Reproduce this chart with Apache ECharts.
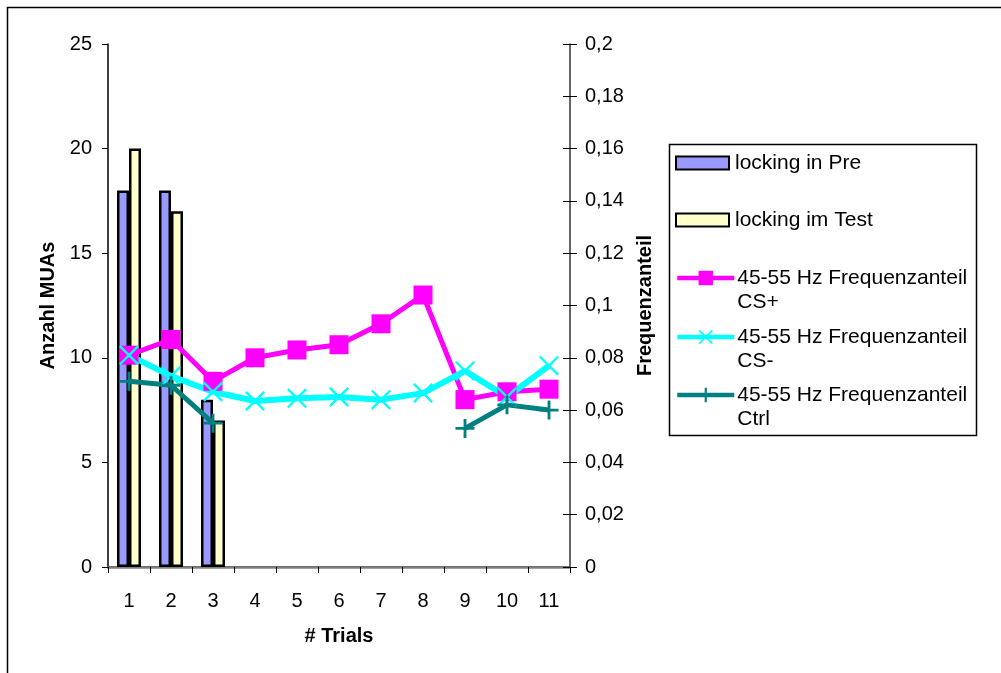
<!DOCTYPE html>
<html>
<head>
<meta charset="utf-8">
<script src="https://cdn.jsdelivr.net/npm/echarts@6/dist/echarts.min.js"></script>
<style>
html,body{margin:0;padding:0;background:#fff;}
#c{width:1001px;height:673px;}
</style>
</head>
<body>
<div id="c"></div>
<script>
// ---- data ----
var categories = ['1','2','3','4','5','6','7','8','9','10','11'];
var lockingPre  = [18, 18, 8, null, null, null, null, null, null, null, null];
var lockingTest = [20, 17, 7, null, null, null, null, null, null, null, null];
var csPlus  = [0.081, 0.087, 0.071, 0.080, 0.083, 0.085, 0.093, 0.104, 0.064, 0.067, 0.068];
var csMinus = [0.081, 0.073, 0.067, 0.0635, 0.0645, 0.065, 0.064, 0.0665, 0.075, 0.065, 0.077];
var ctrl    = [0.071, 0.0695, 0.055, null, null, null, null, null, 0.053, 0.062, 0.060];
var seriesNames = ['locking in Pre', 'locking im Test',
  '45-55 Hz Frequenzanteil CS+', '45-55 Hz Frequenzanteil CS-', '45-55 Hz Frequenzanteil Ctrl'];
var legendLabels = ['locking in Pre', 'locking im Test',
  ' \n45-55 Hz Frequenzanteil\nCS+', ' \n45-55 Hz Frequenzanteil\nCS-', ' \n45-55 Hz Frequenzanteil\nCtrl'];

var FONT = '"Liberation Sans", Arial, sans-serif';
var xSym = 'path://M0,1.7 L1.7,0 L20,18.3 L18.3,20 Z M18.3,0 L20,1.7 L1.7,20 L0,18.3 Z';
var plusSym = 'path://M8.5,0 H11.5 V8.5 H20 V11.5 H11.5 V20 H8.5 V11.5 H0 V8.5 H8.5 Z';

var legendTops = [151, 208, 242, 301, 359];
var legends = seriesNames.map(function (n, i) {
  var isBar = i < 2;
  var l = {
    show: true,
    data: [isBar ? {name: n, icon: 'rect'} : {name: n}],
    left: 675, top: legendTops[i], padding: 0,
    itemWidth: isBar ? 53 : 57,
    itemHeight: isBar ? 13 : 18,
    itemGap: 0,
    selectedMode: false,
    formatter: function () { return legendLabels[i]; },
    textStyle: {fontFamily: FONT, fontSize: 21, lineHeight: 24, color: '#000', padding: [0, 0, 0, isBar ? 1 : -2]}
  };
  if (!isBar) l.lineStyle = {width: 4.5};
  return l;
});

var chart = echarts.init(document.getElementById('c'), null, {renderer: 'canvas'});
chart.setOption({
  animation: false,
  backgroundColor: '#fff',
  graphic: [
    {type: 'rect', shape: {x: 7.5, y: 7.5, width: 1200, height: 1000}, style: {fill: 'none', stroke: '#000', lineWidth: 1.5}, z: 0},
    {type: 'rect', shape: {x: 669.5, y: 144.5, width: 307, height: 291}, style: {fill: '#fff', stroke: '#000', lineWidth: 1.5}, z: 0}
  ],
  grid: {left: 108, right: 431, top: 44, bottom: 106},
  legend: legends,
  xAxis: [{
    type: 'category', data: categories, position: 'bottom',
    name: '# Trials', nameLocation: 'middle', nameGap: 59,
    nameTextStyle: {fontFamily: FONT, fontSize: 20, fontWeight: 'bold', color: '#000'},
    axisLine: {lineStyle: {color: '#000', width: 1.5}},
    axisTick: {show: true, length: 6, lineStyle: {color: '#000', width: 1}},
    axisLabel: {fontFamily: FONT, fontSize: 20, color: '#000', margin: 24},
    splitLine: {show: false}
  }, {
    type: 'category', data: categories, position: 'top',
    axisLine: {lineStyle: {color: '#808080', width: 2.5}},
    axisTick: {show: false}, axisLabel: {show: false}, splitLine: {show: false}
  }],
  yAxis: [{
    type: 'value', min: 0, max: 25, interval: 5, position: 'left',
    name: 'Anzahl MUAs', nameLocation: 'middle', nameGap: 50, nameRotate: 90,
    nameTextStyle: {fontFamily: FONT, fontSize: 20, fontWeight: 'bold', color: '#000'},
    axisLine: {show: true, lineStyle: {color: '#000', width: 1.5}},
    axisTick: {show: true, length: 6, lineStyle: {color: '#000'}},
    axisLabel: {fontFamily: FONT, fontSize: 20, color: '#000', margin: 16},
    splitLine: {show: false}
  }, {
    type: 'value', min: 0, max: 0.2, interval: 0.02, position: 'right',
    name: 'Frequenzanteil', nameLocation: 'middle', nameGap: 65, nameRotate: 90,
    nameTextStyle: {fontFamily: FONT, fontSize: 20, fontWeight: 'bold', color: '#000'},
    axisLine: {show: true, lineStyle: {color: '#333', width: 1.5}},
    axisTick: {show: true, length: 7, lineStyle: {color: '#000'}},
    axisLabel: {fontFamily: FONT, fontSize: 20, color: '#000', margin: 15,
      formatter: function (v) { return String(+v.toFixed(2)).replace('.', ','); }},
    splitLine: {show: false}
  }, {
    type: 'value', min: 0, max: 0.2, interval: 0.02, position: 'right',
    axisLine: {show: false},
    axisTick: {show: true, inside: true, length: 7, lineStyle: {color: '#000'}},
    axisLabel: {show: false}, splitLine: {show: false}
  }],
  series: [{
    name: seriesNames[0], type: 'bar', data: lockingPre, yAxisIndex: 0,
    barWidth: 12, barGap: '0%',
    itemStyle: {color: '#9999FF', borderColor: '#000', borderWidth: 2.5}
  }, {
    name: seriesNames[1], type: 'bar', data: lockingTest, yAxisIndex: 0,
    barWidth: 12, barGap: '0%',
    itemStyle: {color: '#FFFFCC', borderColor: '#000', borderWidth: 2.5}
  }, {
    name: seriesNames[2], type: 'line', data: csPlus, yAxisIndex: 1,
    symbol: 'rect', symbolSize: 19,
    lineStyle: {color: '#FF00FF', width: 5},
    itemStyle: {color: '#FF00FF'}
  }, {
    name: seriesNames[3], type: 'line', data: csMinus, yAxisIndex: 1,
    symbol: xSym, symbolSize: 20,
    lineStyle: {color: '#00FFFF', width: 6},
    itemStyle: {color: '#00FFFF'}
  }, {
    name: seriesNames[4], type: 'line', data: ctrl, yAxisIndex: 1,
    symbol: plusSym, symbolSize: 19, connectNulls: false,
    lineStyle: {color: '#008080', width: 5},
    itemStyle: {color: '#008080'}
  }]
});
</script>
</body>
</html>
